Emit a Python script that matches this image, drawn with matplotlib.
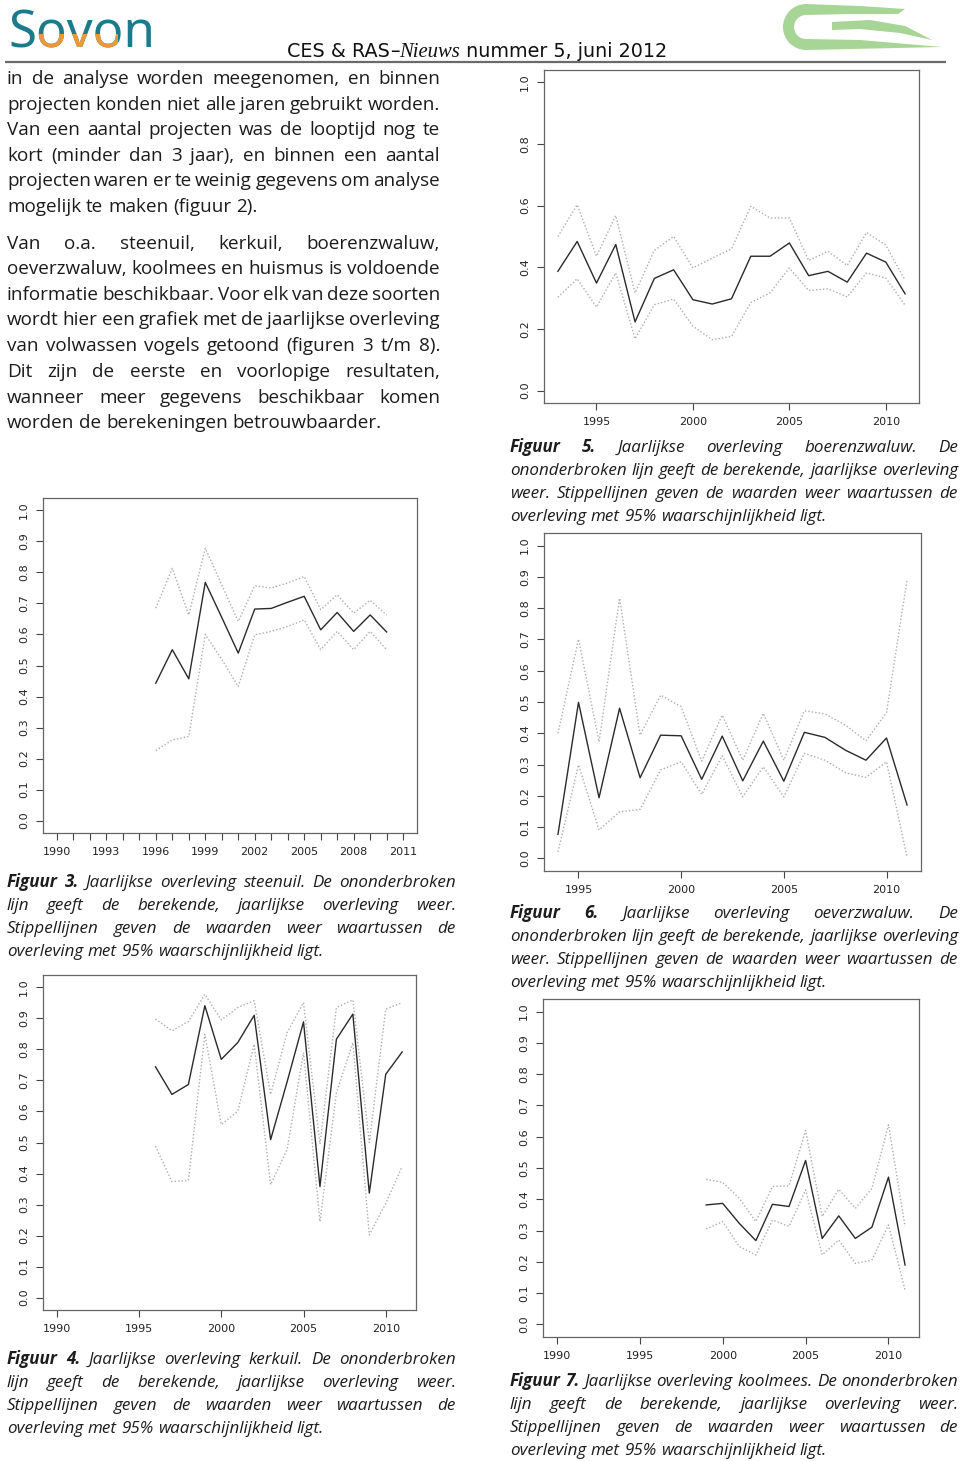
import matplotlib
matplotlib.use("Agg")
import matplotlib.pyplot as plt
from matplotlib.patches import Polygon, Wedge
from matplotlib.transforms import Bbox

W, H = 960, 1461

# ---------------- data ----------------
steenuil_years = [1996, 1997, 1998, 1999, 2000, 2001, 2002, 2003, 2004, 2005, 2006, 2007, 2008, 2009, 2010]
steenuil_mid = [0.443, 0.551, 0.457, 0.768, 0.655, 0.540, 0.682, 0.684, 0.704, 0.723, 0.615, 0.671, 0.610, 0.663, 0.608]
steenuil_hi = [0.685, 0.813, 0.663, 0.878, 0.760, 0.642, 0.757, 0.750, 0.766, 0.787, 0.680, 0.728, 0.669, 0.710, 0.663]
steenuil_lo = [0.226, 0.260, 0.271, 0.600, 0.520, 0.432, 0.599, 0.610, 0.626, 0.647, 0.551, 0.610, 0.551, 0.610, 0.551]

kerkuil_years = [1996, 1997, 1998, 1999, 2000, 2001, 2002, 2003, 2004, 2005, 2006, 2007, 2008, 2009, 2010, 2011]
kerkuil_mid = [0.744, 0.655, 0.687, 0.941, 0.768, 0.822, 0.910, 0.509, 0.695, 0.889, 0.358, 0.833, 0.914, 0.337, 0.720, 0.792]
kerkuil_hi = [0.898, 0.860, 0.890, 0.978, 0.895, 0.935, 0.957, 0.655, 0.854, 0.951, 0.495, 0.935, 0.960, 0.500, 0.930, 0.951]
kerkuil_lo = [0.488, 0.374, 0.378, 0.849, 0.558, 0.600, 0.817, 0.364, 0.477, 0.790, 0.245, 0.660, 0.822, 0.202, 0.304, 0.423]

boerenzwaluw_years = list(range(1993, 2012))
boerenzwaluw_mid = [0.387, 0.484, 0.349, 0.474, 0.223, 0.364, 0.392, 0.295, 0.281, 0.298, 0.436, 0.436, 0.479, 0.373, 0.387, 0.352, 0.446, 0.417, 0.314]
boerenzwaluw_hi = [0.500, 0.603, 0.436, 0.568, 0.317, 0.455, 0.500, 0.398, 0.430, 0.460, 0.598, 0.560, 0.560, 0.422, 0.452, 0.406, 0.513, 0.472, 0.358]
boerenzwaluw_lo = [0.303, 0.363, 0.271, 0.382, 0.168, 0.279, 0.297, 0.209, 0.165, 0.176, 0.286, 0.317, 0.398, 0.325, 0.330, 0.304, 0.382, 0.365, 0.277]

oeverzwaluw_years = list(range(1994, 2012))
oeverzwaluw_mid = [0.077, 0.499, 0.194, 0.480, 0.258, 0.394, 0.392, 0.253, 0.391, 0.248, 0.375, 0.247, 0.403, 0.387, 0.346, 0.314, 0.385, 0.171]
oeverzwaluw_hi = [0.400, 0.701, 0.373, 0.832, 0.394, 0.522, 0.485, 0.311, 0.458, 0.314, 0.464, 0.314, 0.472, 0.462, 0.426, 0.376, 0.466, 0.890]
oeverzwaluw_lo = [0.021, 0.299, 0.091, 0.149, 0.157, 0.283, 0.309, 0.205, 0.328, 0.197, 0.293, 0.197, 0.336, 0.314, 0.274, 0.259, 0.309, 0.005]

koolmees_years = list(range(1999, 2012))
koolmees_mid = [0.382, 0.387, 0.323, 0.268, 0.384, 0.377, 0.524, 0.275, 0.347, 0.275, 0.311, 0.471, 0.190]
koolmees_hi = [0.464, 0.454, 0.403, 0.329, 0.441, 0.443, 0.620, 0.345, 0.432, 0.371, 0.435, 0.638, 0.313]
koolmees_lo = [0.305, 0.329, 0.249, 0.222, 0.334, 0.313, 0.430, 0.222, 0.270, 0.195, 0.206, 0.318, 0.110]

yticks_fine = [0.0, 0.1, 0.2, 0.3, 0.4, 0.5, 0.6, 0.7, 0.8, 0.9, 1.0]
yticks_coarse = [0.0, 0.2, 0.4, 0.6, 0.8, 1.0]

para1 = [
    "in de analyse worden meegenomen, en binnen",
    "projecten konden niet alle jaren gebruikt worden.",
    "Van een aantal projecten was de looptijd nog te",
    "kort (minder dan 3 jaar), en binnen een aantal",
    "projecten waren er te weinig gegevens om analyse",
    "mogelijk te maken (figuur 2).",
]
para2 = [
    "Van o.a. steenuil, kerkuil, boerenzwaluw,",
    "oeverzwaluw, koolmees en huismus is voldoende",
    "informatie beschikbaar. Voor elk van deze soorten",
    "wordt hier een grafiek met de jaarlijkse overleving",
    "van volwassen vogels getoond (figuren 3 t/m 8).",
    "Dit zijn de eerste en voorlopige resultaten,",
    "wanneer meer gegevens beschikbaar komen",
    "worden de berekeningen betrouwbaarder.",
]

def caption_wide(num, soort):
    return [
        f"Figuur {num}. Jaarlijkse overleving {soort}. De",
        "ononderbroken lijn geeft de berekende, jaarlijkse overleving",
        "weer. Stippellijnen geven de waarden weer waartussen de",
        "overleving met 95% waarschijnlijkheid ligt.",
    ]

def caption_narrow(num, soort):
    return [
        f"Figuur {num}. Jaarlijkse overleving {soort}. De ononderbroken",
        "lijn geeft de berekende, jaarlijkse overleving weer.",
        "Stippellijnen geven de waarden weer waartussen de",
        "overleving met 95% waarschijnlijkheid ligt.",
    ]

# ---------------- figure ----------------
fig = plt.figure(figsize=(W / 100, H / 100), dpi=100)
fig.patch.set_facecolor("white")
ov = fig.add_axes([0, 0, 1, 1])
ov.set_xlim(0, W)
ov.set_ylim(H, 0)
ov.axis("off")
renderer = fig.canvas.get_renderer()

TXT = "#1c1c1c"
BODY = "Open Sans"


def width_of(s, **kw):
    t = ov.text(0, 0, s, **kw)
    w = t.get_window_extent(renderer).width
    t.remove()
    return w


def fit_size(s, target, **kw):
    w = width_of(s, fontsize=20, **kw)
    return 20 * target / w


def justify(line, x0, x1, y, size, style="normal", last=False, bold_n=0):
    words = line.split(" ")
    objs = []
    widths = []
    for i, wd in enumerate(words):
        weight = "bold" if i < bold_n else "normal"
        t = ov.text(0, y, wd, fontsize=size, family=BODY, style=style,
                    weight=weight, color=TXT, ha="left", va="baseline")
        objs.append(t)
        widths.append(t.get_window_extent(renderer).width)
    nat_space = width_of("a a", fontsize=size, family=BODY, style=style) - \
        width_of("aa", fontsize=size, family=BODY, style=style)
    if last or len(words) == 1:
        sp = nat_space
    else:
        sp = (x1 - x0 - sum(widths)) / (len(words) - 1)
    x = x0
    for t, w in zip(objs, widths):
        t.set_x(x)
        x += w + sp


# body text
body_size = fit_size("projecten konden niet alle jaren gebruikt worden.", 433, family=BODY)
ys1 = [84, 110, 135, 161, 186, 212]
for i, (ln, y) in enumerate(zip(para1, ys1)):
    justify(ln, 7, 440, y, body_size, last=(i == len(para1) - 1))
ys2 = [249, 274, 300, 325, 351, 377, 403, 428]
for i, (ln, y) in enumerate(zip(para2, ys2)):
    justify(ln, 7, 440, y, body_size, last=(i == len(para2) - 1))

cap_size = fit_size("ononderbroken lijn geeft de berekende, jaarlijkse overleving", 446,
                    family=BODY, style="italic")


def caption(lines, x0, x1, ytop):
    for i, ln in enumerate(lines):
        justify(ln, x0, x1, ytop + 5 + 23 * i, cap_size, style="italic",
                last=(i == len(lines) - 1), bold_n=2 if i == 0 else 0)


caption(caption_wide(5, "boerenzwaluw"), 510, 958, 447)
caption(caption_narrow(3, "steenuil"), 7, 456, 882)
caption(caption_wide(6, "oeverzwaluw"), 510, 958, 913)
caption(caption_narrow(4, "kerkuil"), 7, 456, 1359)
caption(caption_narrow(7, "koolmees"), 510, 958, 1381)

# ---------------- header ----------------
sov_size = fit_size("Sovon", 147, family="Noto Sans")
ov.text(8, 47, "Sovon", fontsize=sov_size, family="Noto Sans", color="#1b7a8b",
        ha="left", va="baseline")
orange = ov.text(8, 47, "Sovon", fontsize=sov_size, family="Noto Sans", color="#e79a3a",
                 ha="left", va="baseline")
orange.set_clip_on(True)
orange.set_clip_box(Bbox.from_extents(36, H - 53, 118, H - 34))

hdr_parts = [
    ("CES & RAS", dict(family=["Liberation Sans Narrow", "DejaVu Sans"], weight="normal", style="normal")),
    ("\u2013", dict(family=["Liberation Sans Narrow", "DejaVu Sans"], weight="normal", style="normal")),
    ("Nieuws", dict(family="Liberation Serif", weight="normal", style="italic")),
    (" nummer 5, juni 2012", dict(family=["Liberation Sans Narrow", "DejaVu Sans"], weight="normal", style="normal")),
]
hsize = 17
tot = sum(width_of(s, fontsize=hsize, **kw) for s, kw in hdr_parts)
hsize = hsize * 375 / tot
x = 287
for s, kw in hdr_parts:
    sz = hsize * (1.08 if s == "Nieuws" else 1.0)
    t = ov.text(x, 57, s, fontsize=sz, color="#111111", ha="left", va="baseline", **kw)
    x += t.get_window_extent(renderer).width

ov.plot([5, 946], [62, 62], color="#6a6a6a", lw=1.6, solid_capstyle="butt")

# green logo
g = "#a6d596"
ov.add_patch(Wedge((806, 27), 23, 90, 270, width=11, color=g, lw=0))
ov.add_patch(Polygon([(806, 4), (860, 6), (905, 9), (898, 14), (850, 14), (806, 15)],
                     closed=True, color=g, lw=0))
ov.add_patch(Polygon([(806, 39), (860, 40), (942, 47), (806, 50)], closed=True, color=g, lw=0))
ov.add_patch(Polygon([(832, 22), (870, 20), (905, 26), (932, 40), (900, 33), (860, 29), (832, 30)],
                     closed=True, color=g, lw=0))


# ---------------- charts ----------------
def chart(L, T, R, B, years, mid, lo, hi, xr, majors, yt, minors=None):
    ax = fig.add_axes([L / W, 1 - B / H, (R - L) / W, (B - T) / H])
    ax.set_facecolor("white")
    ax.plot(years, hi, ls=(0, (1, 1.5)), color="#adadad", lw=1.0)
    ax.plot(years, lo, ls=(0, (1, 1.5)), color="#adadad", lw=1.0)
    ax.plot(years, mid, color="#2a2a2a", lw=1.0)
    span = xr[1] - xr[0]
    ax.set_xlim(xr[0] - 0.04 * span, xr[1] + 0.04 * span)
    ax.set_ylim(-0.04, 1.04)
    ax.set_xticks(majors)
    ax.set_xticklabels([str(m) for m in majors])
    if minors is not None:
        ax.set_xticks(minors, minor=True)
        ax.tick_params(axis="x", which="minor", length=5, width=0.8, color="#444")
    ax.set_yticks(yt)
    ax.set_yticklabels([f"{v:.1f}" for v in yt], rotation=90, va="center")
    for s in ax.spines.values():
        s.set_color("#666666")
        s.set_linewidth(0.9)
    ax.tick_params(axis="both", which="major", length=5, width=0.8, color="#444",
                   labelsize=8, labelcolor="#222", pad=5)
    for lab in ax.get_xticklabels() + ax.get_yticklabels():
        lab.set_family("DejaVu Sans")
    return ax


chart(544, 70, 919, 403, boerenzwaluw_years, boerenzwaluw_mid, boerenzwaluw_lo, boerenzwaluw_hi,
      (1993, 2011), [1995, 2000, 2005, 2010], yticks_coarse)
chart(43, 498, 417, 833, steenuil_years, steenuil_mid, steenuil_lo, steenuil_hi,
      (1990, 2011), list(range(1990, 2012, 3)), yticks_fine, minors=list(range(1990, 2012)))
chart(544, 533, 921, 871, oeverzwaluw_years, oeverzwaluw_mid, oeverzwaluw_lo, oeverzwaluw_hi,
      (1994, 2011), [1995, 2000, 2005, 2010], yticks_fine)
chart(43, 975, 416, 1310, kerkuil_years, kerkuil_mid, kerkuil_lo, kerkuil_hi,
      (1990, 2011), [1990, 1995, 2000, 2005, 2010], yticks_fine)
chart(543, 999, 919, 1337, koolmees_years, koolmees_mid, koolmees_lo, koolmees_hi,
      (1990, 2011), [1990, 1995, 2000, 2005, 2010], yticks_fine)

fig.savefig("out.png", dpi=100, facecolor="white")
